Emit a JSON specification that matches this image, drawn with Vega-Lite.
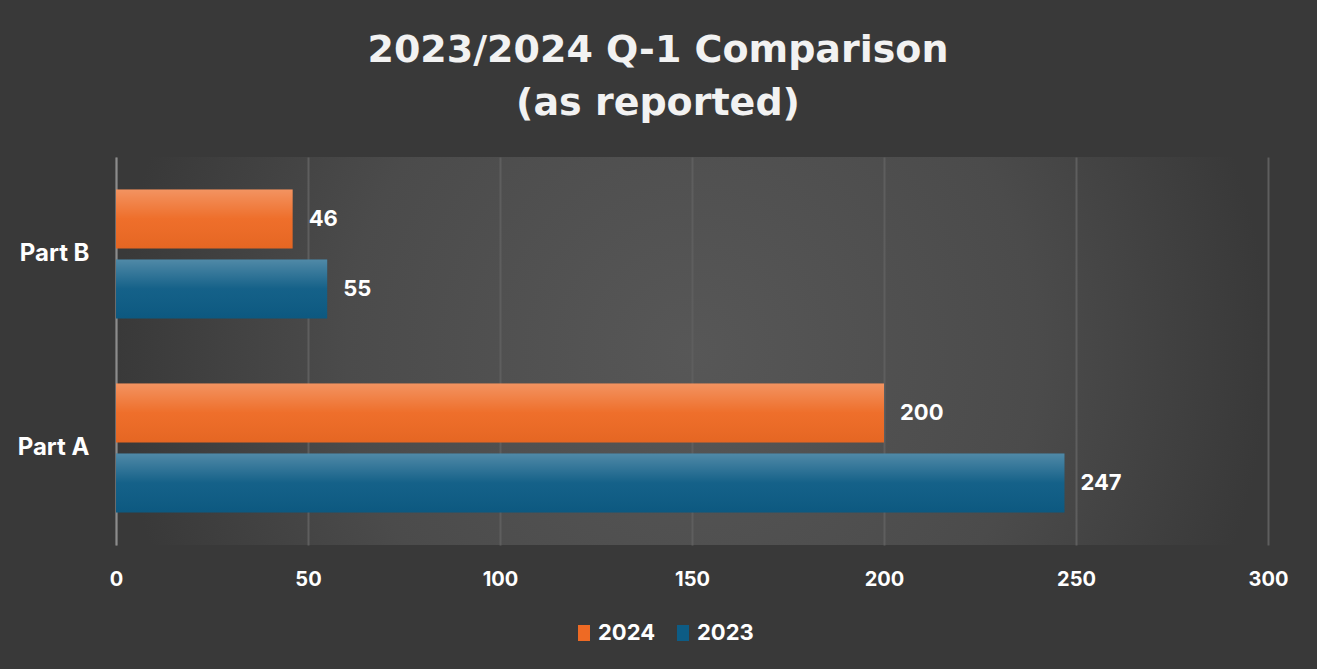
{
  "$schema": "https://vega.github.io/schema/vega-lite/v6.json",
  "width": 1152,
  "height": 388,
  "autosize": {"type": "none"},
  "padding": {"left": 116, "top": 157, "right": 49, "bottom": 124},
  "background": "#393939",
  "config": {
    "font": "Inter",
    "view": {
      "stroke": null,
      "fill": {
        "gradient": "radial",
        "x1": 0.5, "y1": 0.5, "r1": 0,
        "x2": 0.5, "y2": 0.5, "r2": 0.5,
        "stops": [
          {"offset": 0, "color": "#575757"},
          {"offset": 0.6, "color": "#4b4b4b"},
          {"offset": 1, "color": "#393939"}
        ]
      }
    }
  },
  "title": {
    "text": ["2023/2024 Q-1 Comparison", "(as reported)"],
    "font": "DejaVu Sans",
    "fontWeight": "bold",
    "fontSize": 38,
    "color": "#f2f2f2",
    "lineHeight": 53,
    "anchor": "middle",
    "frame": "group",
    "dx": -34,
    "baseline": "bottom",
    "offset": -4
  },
  "data": {
    "values": [
      {"part": "Part B", "year": "2024", "value": 46},
      {"part": "Part B", "year": "2023", "value": 55},
      {"part": "Part A", "year": "2024", "value": 200},
      {"part": "Part A", "year": "2023", "value": 247}
    ]
  },
  "encoding": {
    "y": {
      "field": "part",
      "type": "nominal",
      "sort": ["Part B", "Part A"],
      "scale": {"paddingInner": 0.335, "paddingOuter": 0.1675},
      "axis": {
        "title": null,
        "domainColor": "#8c8c8c",
        "domainWidth": 2,
        "ticks": false,
        "grid": false,
        "labelPadding": 27,
        "labelFont": "Inter",
        "labelFontSize": 24,
        "labelFontWeight": "bold",
        "labelColor": "#ffffff"
      }
    },
    "yOffset": {
      "field": "year",
      "type": "nominal",
      "sort": ["2024", "2023"],
      "scale": {"paddingInner": 0.157, "paddingOuter": 0}
    },
    "x": {
      "field": "value",
      "type": "quantitative",
      "scale": {"domain": [0, 300]},
      "axis": {
        "title": null,
        "values": [0, 50, 100, 150, 200, 250, 300],
        "grid": true,
        "gridColor": "#5e5e5e",
        "gridWidth": 2,
        "domain": false,
        "ticks": false,
        "tickSize": 0,
        "labelPadding": 24,
        "labelFlush": false,
        "labelFont": "Inter",
        "labelFontSize": 20,
        "labelFontWeight": "bold",
        "labelColor": "#ffffff"
      }
    }
  },
  "layer": [
    {
      "mark": {"type": "bar"},
      "encoding": {
        "color": {
          "field": "year",
          "type": "nominal",
          "scale": {"domain": ["2024", "2023"], "range": ["#EE6A24", "#0D5C85"]},
          "legend": {
            "title": null,
            "orient": "none",
            "legendX": 457,
            "legendY": 465,
            "direction": "horizontal",
            "symbolType": "M-0.75,-1H0.75V1H-0.75Z",
            "symbolSize": 256,
            "symbolStrokeWidth": 0,
            "labelFont": "Inter",
            "labelFontSize": 22,
            "labelFontWeight": "bold",
            "labelColor": "#ffffff",
            "labelOffset": 3,
            "columnPadding": 16
          }
        }
      }
    },
    {
      "mark": {
        "type": "bar",
        "fill": {
          "gradient": "linear",
          "x1": 0, "y1": 0, "x2": 0, "y2": 1,
          "stops": [
            {"offset": 0, "color": "rgba(255,255,255,0.28)"},
            {"offset": 0.5, "color": "rgba(255,255,255,0.03)"},
            {"offset": 1, "color": "rgba(0,0,0,0.04)"}
          ]
        }
      }
    },
    {
      "mark": {
        "type": "text",
        "align": "left",
        "baseline": "middle",
        "dx": 16,
        "font": "Inter",
        "fontSize": 22,
        "fontWeight": "bold",
        "color": "#ffffff"
      },
      "encoding": {
        "text": {"field": "value", "type": "quantitative"}
      }
    }
  ]
}
